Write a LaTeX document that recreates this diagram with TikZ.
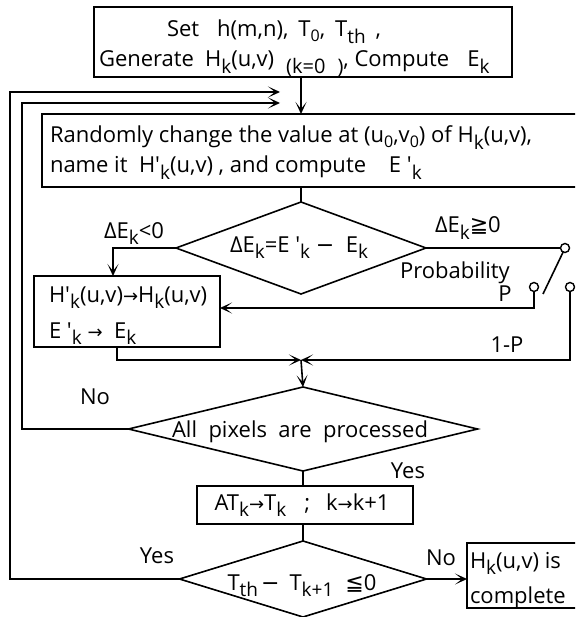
\documentclass[tikz,border=0pt]{standalone}
\usepackage{fontspec}
\setmainfont{Open Sans}[Ligatures=TeXOff]
\newfontfamily\symf{DejaVu Sans}
\usetikzlibrary{shapes.geometric,arrows.meta}
\newcommand\sbk[1]{\raisebox{-0.3em}{\fontsize{19}{19}\selectfont #1}}
\newcommand\sbn[1]{\raisebox{-0.2em}{\fontsize{16}{16}\selectfont #1}}
\newcommand\sy[1]{{\symf #1}}
\newcommand\sar{{\symf\fontsize{18}{18}\selectfont →}}
\newcommand\ap{\symbol{39}}
\tikzset{
 box/.style={draw, line width=1.6pt, inner sep=0, outer sep=0, anchor=north west},
 dia/.style={draw, diamond, line width=1.6pt, inner sep=0, outer sep=0},
 txt/.style={inner sep=0, outer sep=0, font=\fontsize{22}{22}\selectfont},
 ln/.style={line width=1.6pt},
 arr/.style={line width=1.6pt, -{Stealth[length=12pt,width=11pt,inset=7pt]}},
 contact/.style={circle, draw, line width=1.4pt, minimum size=9pt, inner sep=0, outer sep=0},
}
\begin{document}
\begin{tikzpicture}[x=1pt,y=-1pt]
\clip (0,0) rectangle (575,617);
% boxes
\node[box, minimum width=418, minimum height=70] (top) at (94,7) {};
\node[box, minimum width=560, minimum height=73] (rnd) at (42,114) {};
\node[box, minimum width=186, minimum height=71] (acc) at (34,276) {};
\node[box, minimum width=216, minimum height=38] (cool) at (197,486) {};
\node[box, minimum width=130, minimum height=65] (done) at (467,543) {};
% diamonds
\node[dia, minimum width=250, minimum height=92] (d1) at (301,248) {};
\node[dia, minimum width=349, minimum height=84] (d2) at (303,429) {};
\node[dia, minimum width=247, minimum height=76] (d3) at (303,579) {};
% switch contacts
\node[contact] (c0) at (565,248) {};
\node[contact] (cP) at (534,287) {};
\node[contact] (c1) at (570,287) {};
% coordinates
\coordinate (ltn) at (113,248);
\coordinate (lv) at (543,294);
\coordinate (pturn) at (534,308);
\coordinate (qturn) at (570,360);
\coordinate (mrg) at (301,360);
\coordinate (aturn) at (117,360);
\coordinate (il) at (22,103);
\coordinate (ilend) at (280,103);
\coordinate (ol) at (10,92);
\coordinate (olend) at (280,92);
% connectors
\draw[arr] (top.south -| d1.north) -- (rnd.north -| d1.north);
\draw[ln] (rnd.south -| d1.north) -- (d1.north);
\draw[arr] (d1.west) -- (ltn) -- (ltn |- acc.north);
\draw[ln] (d1.east) -- (c0.west);
\draw[ln] (c0.-115) -- (lv);
\draw[arr] (cP.south) -- (pturn) -- (acc.east |- pturn);
\draw[arr] (c1.south) -- (qturn) -- (mrg);
\draw[arr] (acc.south -| aturn) -- (aturn) -- (mrg);
\draw[arr] (mrg) -- (d2.north);
\draw[arr] (d2.west) -- (d2.west -| il) -- (il) -- (ilend);
\draw[ln] (d2.south) -- (cool.north -| d2.south);
\draw[ln] (cool.south -| d3.north) -- (d3.north);
\draw[arr] (d3.west) -- (d3.west -| ol) -- (ol) -- (olend);
\draw[arr] (d3.east) -- (done.west |- d3.east);
% texts
\node[txt, anchor=base west] (t1) at (167,37) {Set\hspace{18pt}h(m,n),\hspace{10pt}T\sbn{0},\hspace{10pt}T\sbk{th}\hspace{10pt},};
\node[txt, anchor=base west] (t2) at (99,67) {Generate\hspace{11pt}H\sbk{k}(u,v)\hspace{12pt}\sbk{\fontsize{20}{20}\selectfont(k=0\hspace{12pt})}, Compute\hspace{18pt}E\sbk{k}};
\node[txt, anchor=base west] (r1) at (50,143) {Randomly change the value at (u\sbn{0},v\sbn{0}) of H\sbk{k}(u,v),};
\node[txt, anchor=base west] (r2) at (50,173) {name it\ \ H\ap\sbk{k}(u,v) , and compute\ \ \ \ E \ap\sbk{k}};
\node[txt, anchor=base] (d1t) at (299,252) {ΔE\sbk{k}=E \ap\sbk{k} \sy{−}\ \ E\sbk{k}};
\node[txt, anchor=base west] (lt0) at (104,238) {ΔE\sbk{k}<0};
\node[txt, anchor=base west] (ge0) at (435,233) {ΔE\sbk{k}\sy{≧}0};
\node[txt, anchor=base west] (prob) at (400,278) {Probability};
\node[txt, anchor=base] (pl) at (505,301) {P};
\node[txt, anchor=base] (qpl) at (507,352) {1-P};
\node[txt, anchor=base west] (a1) at (49,302) {H\ap\sbk{k}(u,v)\sar H\sbk{k}(u,v)};
\node[txt, anchor=base west] (a2) at (49,338) {E \ap\sbk{k} \sar\ \ E\sbk{k}};
\node[txt, anchor=base] (no1) at (95,404) {No};
\node[txt, anchor=base] (d2t) at (300,437) {All\ \ pixels\ \ are\ \ processed};
\node[txt, anchor=base] (yes1) at (408,478) {Yes};
\node[txt, anchor=base] (ct) at (302,510) {AT\sbk{k}\sar T\sbk{k}\hspace{18pt};\hspace{16pt}k\sar k+1};
\node[txt, anchor=base] (yes2) at (157,563) {Yes};
\node[txt, anchor=base] (d3t) at (302,590) {T\sbk{th}\hspace{3pt}\sy{−}\hspace{10pt}T\sbk{k+1}\hspace{12pt}\sy{≦}0};
\node[txt, anchor=base] (no2) at (441,565) {No};
\node[txt, anchor=base west] (f1) at (470,568) {H\sbk{k}(u,v) is};
\node[txt, anchor=base west] (f2) at (470,603) {complete};
\end{tikzpicture}
\end{document}
